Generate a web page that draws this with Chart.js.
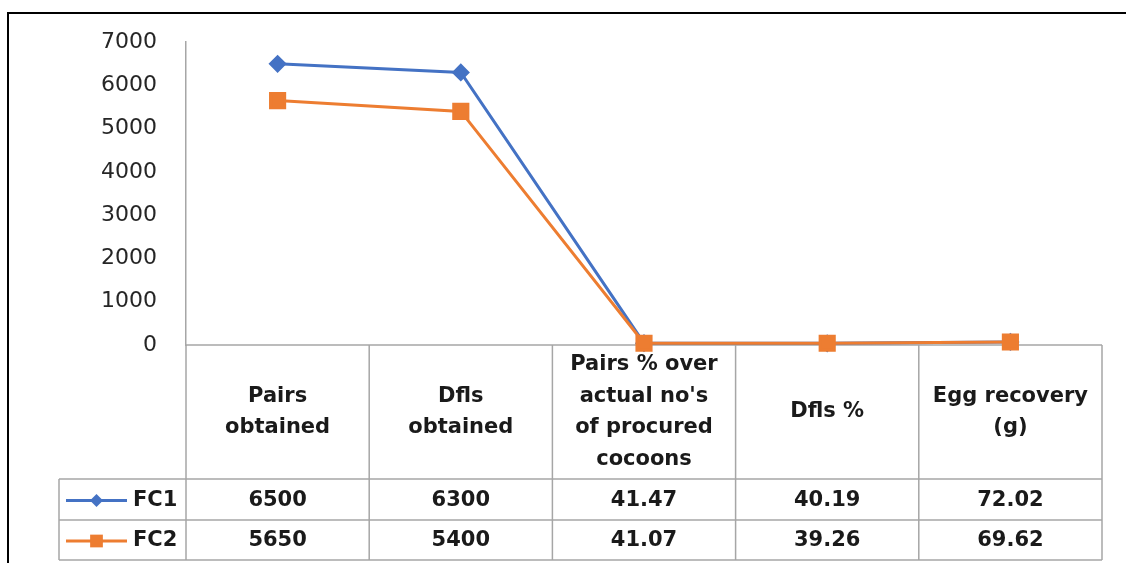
<!DOCTYPE html>
<html>
<head>
<meta charset="utf-8">
<script src="https://cdn.jsdelivr.net/npm/chart.js@4/dist/chart.umd.min.js"></script>
<style>
  html, body { margin: 0; padding: 0; background: #fff; overflow: hidden; }
  #wrap { position: relative; width: 1126px; height: 563px; }
  #frame { position: absolute; left: 7px; top: 12px; width: 1140px; height: 600px;
           border: 2px solid #000; box-sizing: border-box; pointer-events: none; }
  canvas { position: absolute; left: 0; top: 0; }
</style>
</head>
<body>
<div id="wrap">
  <canvas id="chart" width="1126" height="563"></canvas>
  <div id="frame"></div>
</div>
<script>
// ── Data ───────────────────────────────────────────────────────────────────
const categories = [
  ["Pairs", "obtained"],
  ["Dfls", "obtained"],
  ["Pairs % over", "actual no's", "of procured", "cocoons"],
  ["Dfls %"],
  ["Egg recovery", "(g)"],
];
const fc1Values = [6500, 6300, 41.47, 40.19, 72.02];
const fc2Values = [5650, 5400, 41.07, 39.26, 69.62];
const yMin = 0, yMax = 7000, yStep = 1000;

const BLUE   = "#4472C4";
const ORANGE = "#ED7D31";
const GRID   = "#a6a6a6";

// order: FC2 is drawn over FC1, as in the original
const seriesMeta = [
  { label: "FC1", data: fc1Values, color: BLUE,   style: "rectRot", radius: 7,  order: 1 },
  { label: "FC2", data: fc2Values, color: ORANGE, style: "rect",    radius: 10, order: 0 },
];

// ── Geometry of the data table under the plot ─────────────────────────────
const headerBottom = 479;
const rowBottoms   = [520, 560];
const legendLeft   = 59;

function drawMarker(ctx, style, x, y, r, color) {
  ctx.save();
  ctx.fillStyle = color;
  ctx.beginPath();
  if (style === "rect") {
    const s = Math.SQRT1_2 * r;
    ctx.rect(x - s, y - s, 2 * s, 2 * s);
  } else {
    ctx.moveTo(x, y - r); ctx.lineTo(x + r, y); ctx.lineTo(x, y + r); ctx.lineTo(x - r, y);
    ctx.closePath();
  }
  ctx.fill();
  ctx.restore();
}

const dataTablePlugin = {
  id: "dataTable",
  beforeDatasetsDraw(chart) {
    const { ctx, chartArea, scales } = chart;
    const xs = scales.x;
    const n = categories.length;
    const colW = (chartArea.right - chartArea.left) / n;
    const top = chartArea.bottom;
    const bottom = rowBottoms[rowBottoms.length - 1];

    ctx.save();
    ctx.strokeStyle = GRID;
    ctx.lineWidth = 1.5;
    ctx.beginPath();
    // horizontal lines
    ctx.moveTo(chartArea.left, top); ctx.lineTo(chartArea.right, top);
    ctx.moveTo(legendLeft, headerBottom); ctx.lineTo(chartArea.right, headerBottom);
    rowBottoms.forEach((yb) => { ctx.moveTo(legendLeft, yb); ctx.lineTo(chartArea.right, yb); });
    // vertical lines
    for (let i = 0; i <= n; i++) {
      const x = chartArea.left + i * colW;
      ctx.moveTo(x, top); ctx.lineTo(x, bottom);
    }
    ctx.moveTo(legendLeft, headerBottom); ctx.lineTo(legendLeft, bottom);
    ctx.stroke();

    // header text
    ctx.fillStyle = "#1a1a1a";
    ctx.font = "bold 21px 'DejaVu Sans'";
    ctx.textAlign = "center";
    ctx.textBaseline = "middle";
    const lineH = 31.5;
    const headMid = (top + headerBottom) / 2;
    categories.forEach((lines, i) => {
      const cx = xs.getPixelForValue(i);
      const y0 = headMid - (lines.length - 1) * lineH / 2;
      lines.forEach((t, j) => ctx.fillText(t, cx, y0 + j * lineH));
    });

    // rows
    let rowTop = headerBottom;
    seriesMeta.forEach((s, r) => {
      const cy = (rowTop + rowBottoms[r]) / 2 + 1;
      // legend sample
      ctx.strokeStyle = s.color;
      ctx.lineWidth = 3;
      ctx.beginPath(); ctx.moveTo(66, cy); ctx.lineTo(127, cy); ctx.stroke();
      drawMarker(ctx, s.style, 96.5, cy, s.style === "rect" ? 9 : 6.5, s.color);
      ctx.fillStyle = "#1a1a1a";
      ctx.textAlign = "left";
      ctx.fillText(s.label, 133, cy);
      ctx.textAlign = "center";
      s.data.forEach((v, i) => ctx.fillText(String(v), xs.getPixelForValue(i), cy));
      rowTop = rowBottoms[r];
    });
    ctx.restore();
  },
};

// ── Chart ──────────────────────────────────────────────────────────────────
const ctx = document.getElementById("chart").getContext("2d");
new Chart(ctx, {
  type: "line",
  data: {
    labels: categories.map((c) => c.join(" ")),
    datasets: seriesMeta.map((s) => ({
      label:           s.label,
      data:            s.data,
      order:           s.order,
      borderColor:     s.color,
      backgroundColor: s.color,
      borderWidth:     3,
      pointStyle:      s.style,
      pointRadius:     s.radius,
      pointHoverRadius: s.radius,
      tension:         0,
      clip:            false,
    })),
  },
  options: {
    responsive: false,
    animation: false,
    layout: { padding: { left: 0, right: 24, top: 42, bottom: 563 - 345 } },
    plugins: { legend: { display: false }, tooltip: { enabled: false } },
    scales: {
      x: { display: false, offset: true },
      y: {
        min: yMin, max: yMax,
        ticks: {
          stepSize: yStep,
          padding: 29,
          color: "#262626",
          font: { family: "DejaVu Sans", size: 22 },
          callback: (v) => String(v),
        },
        grid: { display: false, drawTicks: false },
        border: { display: true, color: GRID, width: 1.5 },
        afterFit(scale) { scale.width = 186; },
      },
    },
  },
  plugins: [dataTablePlugin],
});
</script>
</body>
</html>
